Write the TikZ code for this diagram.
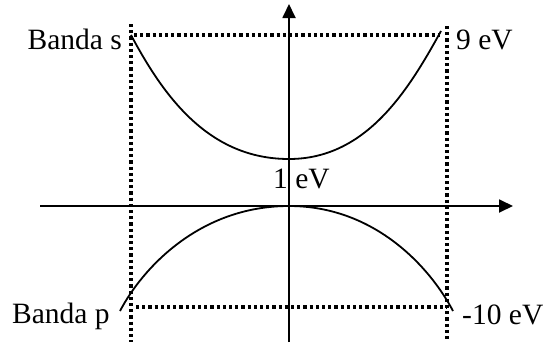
\documentclass[tikz,border=0pt]{standalone}
\usepackage{fontspec}
\setmainfont{Liberation Serif}
\usetikzlibrary{arrows.meta}
\begin{document}
\begin{tikzpicture}[x=1pt,y=-1pt,
  axis/.style={line width=1.8pt,-{Triangle[length=14pt,width=13pt]}},
  band/.style={line width=1.8pt},
  guide/.style={line width=3.2pt,dash pattern=on 3.2pt off 3pt},
  lbl/.style={inner sep=0pt,font=\fontsize{29.5}{35}\selectfont}]
\useasboundingbox (0,0) rectangle (545,343);
% coordinates
\coordinate (yb) at (289,342);
\coordinate (yt) at (289,4);
\coordinate (xl) at (40,206);
\coordinate (xr) at (513,206);
\coordinate (lt) at (131,24);
\coordinate (lb) at (131,342);
\coordinate (rt) at (447,26);
\coordinate (rb) at (447,342);
\coordinate (tl) at (134,35);
\coordinate (tr) at (440,35);
\coordinate (bl) at (136,307);
\coordinate (br) at (447,307);
\coordinate (sL) at (131,35);
\coordinate (sV) at (289,159);
\coordinate (sR) at (441,31);
\coordinate (pL) at (120,311);
\coordinate (pV) at (289,206);
\coordinate (pR) at (453,311);
% guides
\draw[guide] (lt) -- (lb);
\draw[guide] (rt) -- (rb);
\draw[guide] (tl) -- (tr);
\draw[guide] (bl) -- (br);
% axes
\draw[axis] (yb) -- (yt);
\draw[axis] (xl) -- (xr);
% bands
\draw[band] (sL) .. controls (164,97) and (209,159) .. (sV)
                 .. controls (366,159) and (408,91) .. (sR);
\draw[band] (pL) .. controls (142,269) and (199,206) .. (pV)
                 .. controls (376,206) and (431,269) .. (pR);
% labels
\node[lbl,anchor=base east] (ls) at (122,49) {Banda s};
\node[lbl,anchor=base west] (l9) at (456,49) {9 eV};
\node[lbl,anchor=base west] (l1) at (273,188) {1 eV};
\node[lbl,anchor=base west] (lp) at (12,323) {Banda p};
\node[lbl,anchor=base west] (l10) at (462,324) {-10 eV};
\end{tikzpicture}
\end{document}
